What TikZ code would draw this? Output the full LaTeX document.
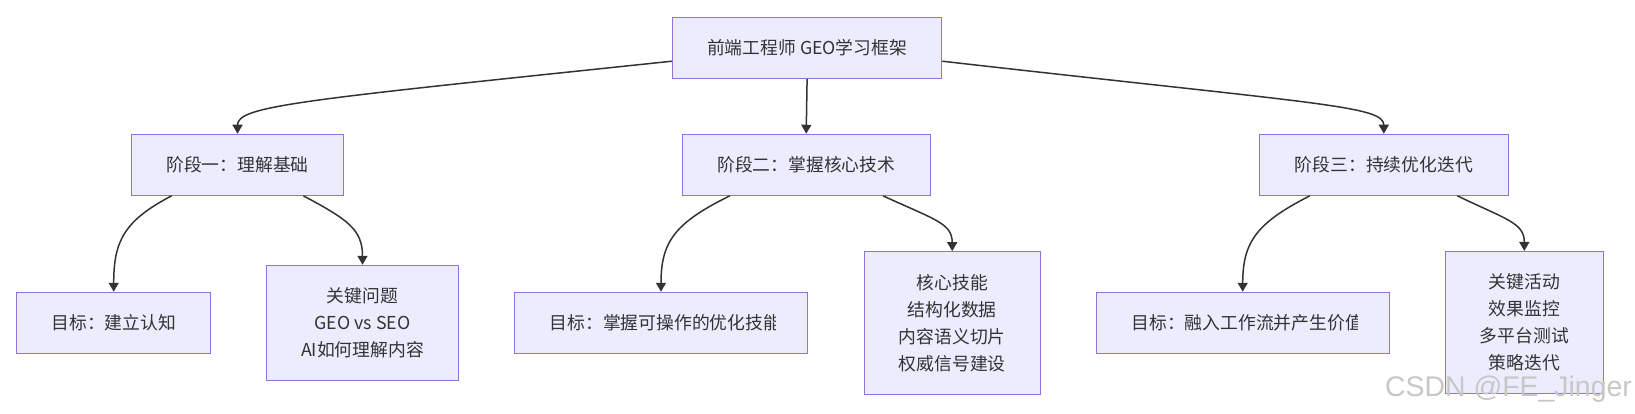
\documentclass[tikz,border=0pt]{standalone}
\usepackage{fontspec}
\newfontfamily\cjk{Noto Sans CJK SC}
\usetikzlibrary{arrows.meta,calc}
\definecolor{boxfill}{HTML}{ECECFF}
\definecolor{boxline}{HTML}{9370DB}
\definecolor{ink}{HTML}{333333}
\tikzset{
  box/.style={draw=boxline, fill=boxfill, line width=1.1pt, inner sep=0pt,
    font=\cjk\fontsize{17.8}{27}\selectfont, text=ink, align=center},
  txt/.style={inner sep=0pt, font=\cjk\fontsize{17.8}{27}\selectfont, text=ink},
  edge/.style={draw=ink, line width=1.5pt, -{Triangle[length=9pt,width=10pt]}},
}
\begin{document}
\begin{tikzpicture}[x=1pt,y=-1pt]
\useasboundingbox (0,0) rectangle (1635,414);
% top
\node[box, minimum width=269.2pt, minimum height=61pt] (top) at (807.1,47.8) {前端工程师 GEO学习框架};
% stages
\node[box, minimum width=211.6pt, minimum height=61pt] (s1) at (237.5,164.8) {阶段一：理解基础};
\node[box, minimum width=247.7pt, minimum height=61pt] (s2) at (806.2,164.8) {阶段二：掌握核心技术};
\node[box, minimum width=249pt, minimum height=61pt] (s3) at (1383.8,164.8) {阶段三：持续优化迭代};
% children
\node[box, minimum width=194pt, minimum height=61pt] (g1) at (113.7,322.8) {目标：建立认知};
\node[box, minimum width=191.6pt, minimum height=115.3pt] (k1) at (362.5,323) {关键问题\\GEO vs SEO\\AI如何理解内容};
\node[box, minimum width=293.4pt, minimum height=61pt] (g2) at (661,322.8) {};
\begin{scope}
\clip ($(g2.south west)+(33.4,0)$) rectangle ($(g2.north east)+(-33,0)$);
\node[txt, anchor=west] (g2t) at ($(g2.west)+(35.7,0)$) {目标：掌握可操作的优化技能};
\end{scope}
\node[box, minimum width=176pt, minimum height=142.3pt] (c2) at (952.2,322.9) {核心技能\\结构化数据\\内容语义切片\\权威信号建设};
\node[box, minimum width=293.3pt, minimum height=61pt] (g3) at (1242.7,322.8) {};
\begin{scope}
\clip ($(g3.south west)+(33.4,0)$) rectangle ($(g3.north east)+(-32.6,0)$);
\node[txt, anchor=west] (g3t) at ($(g3.west)+(35.7,0)$) {目标：融入工作流并产生价值};
\end{scope}
\node[box, minimum width=158pt, minimum height=142pt] (a3) at (1524.3,322.5) {关键活动\\效果监控\\多平台测试\\策略迭代};
% edges from top
\draw[edge] ($(top.south west)!0.284!(top.north west)$) .. controls +(-372,39) and +(0,-28) .. (s1.north);
\draw[edge] (top.south) -- (s2.north);
\draw[edge] ($(top.south east)!0.284!(top.north east)$) .. controls +(378,43) and +(0,-28) .. (s3.north);
% edges from stages
\draw[edge] ($(s1.south west)!0.19!(s1.south east)$) .. controls +(-48,25) and +(0,-50) .. (g1.north);
\draw[edge] ($(s1.south west)!0.81!(s1.south east)$) .. controls +(45,24) and +(0,-35) .. (k1.north);
\draw[edge] ($(s2.south west)!0.193!(s2.south east)$) .. controls +(-55,27) and +(0,-50) .. (g2.north);
\draw[edge] ($(s2.south west)!0.809!(s2.south east)$) .. controls +(52,24) and +(0,-28) .. (c2.north);
\draw[edge] ($(s3.south west)!0.204!(s3.south east)$) .. controls +(-53,27) and +(0,-50) .. (g3.north);
\draw[edge] ($(s3.south west)!0.794!(s3.south east)$) .. controls +(50,24) and +(0,-28) .. (a3.north);
% watermark
\node[inner sep=0pt, anchor=base west, text=black!22, font=\fontspec{Liberation Sans}\fontsize{28.4}{30}\selectfont] (wm) at (1385,396.7) {CSDN @FE\_Jinger};
\end{tikzpicture}
\end{document}
